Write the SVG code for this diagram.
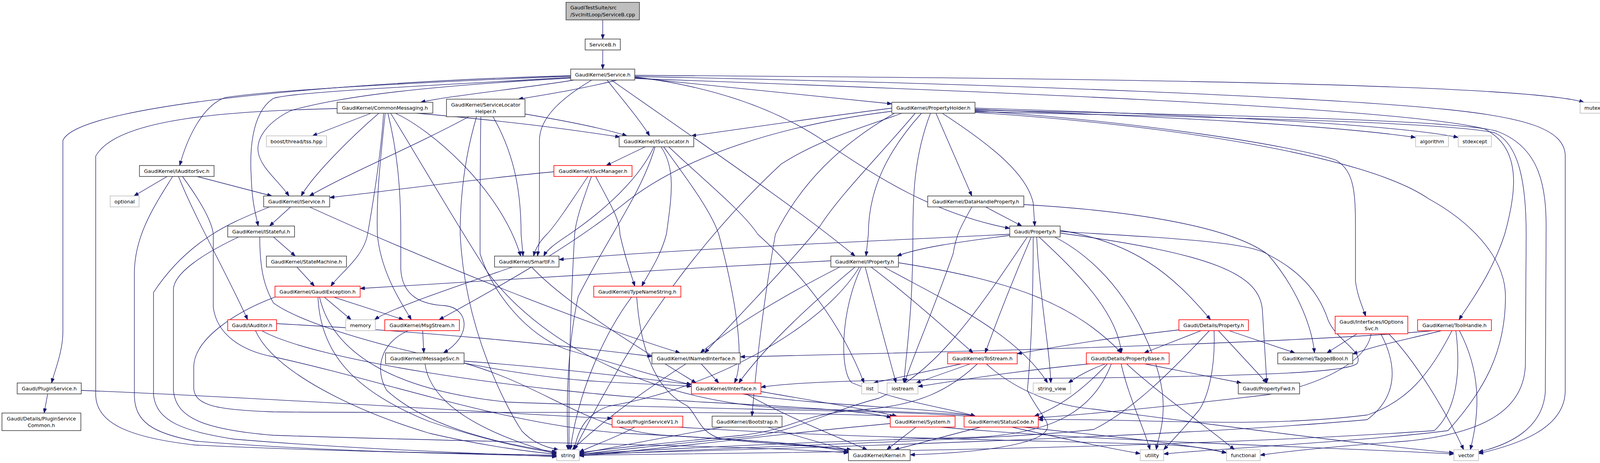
<svg xmlns="http://www.w3.org/2000/svg" width="4114" height="1186" viewBox="0 0 4114 1186">
<style>
.e{fill:none;stroke:#191970;stroke-width:1.3;marker-end:url(#ah)}
.n rect{fill:#fff;stroke:#404040;stroke-width:1.6}
.r rect{stroke:#ff0000}
.x rect{stroke:#bfbfbf}
.root rect{fill:#bfbfbf}
text{font-family:"DejaVu Sans","Liberation Sans",sans-serif;font-size:12.8px;text-anchor:middle;fill:#000}
</style>
<defs>
<marker id="ah" markerWidth="12" markerHeight="9" refX="12" refY="4.5" orient="auto" markerUnits="userSpaceOnUse"><path d="M0,0 L12,4.5 L0,9 z" fill="#191970" stroke="#191970" stroke-width="1"/></marker>
</defs>
<rect width="4114" height="1186" fill="#fff"/>
<g id="edges">
<path class="e" d="M1543,51 L1543,100"/>
<path class="e" d="M1543,128 L1543,177"/>
<path class="e" d="M1470,205 C1350,225 1150,245 1077,262"/>
<path class="e" d="M1580,205 C1480,230 1380,245 1327,254"/>
<path class="e" d="M1625,199 C1900,228 2150,252 2283,266"/>
<path class="e" d="M1625,193 C2800,200 3900,215 4055,262"/>
<path class="e" d="M1625,196 C2600,215 3400,250 3700,280 C3900,300 4007,330 4007,400 L4007,1000 C4007,1100 3880,1140 3785,1162"/>
<path class="e" d="M1625,201 C2700,240 3600,280 3800,330 C3900,380 3880,500 3852,600 C3820,700 3760,780 3735,819"/>
<path class="e" d="M1625,197 C1850,225 2000,290 2100,355 C2250,460 2400,550 2585,585"/>
<path class="e" d="M1565,205 C1800,370 2050,540 2189,656"/>
<path class="e" d="M1554,205 C1590,250 1640,310 1663,348"/>
<path class="e" d="M1515,205 C1440,250 1381,300 1381,360 L1381,600 C1381,625 1378,640 1376,656"/>
<path class="e" d="M1461,195 C1100,210 700,230 576,250 C520,270 480,350 460,424"/>
<path class="e" d="M1461,194 C1000,205 200,260 161,360 L161,850 C161,900 140,950 132,981"/>
<path class="e" d="M1461,198 C1100,220 750,235 700,252 C640,290 640,400 643,450 C645,520 655,550 661,579"/>
<path class="e" d="M1461,200 C1100,220 880,245 745,283 C690,310 655,350 661,390 C668,430 710,460 740,502"/>
<path class="e" d="M950,290 L800,348"/>
<path class="e" d="M970,290 C900,350 800,450 771,502"/>
<path class="e" d="M1066,290 C1300,310 1450,330 1587,351"/>
<path class="e" d="M1012,290 C1100,330 1280,480 1333,656"/>
<path class="e" d="M982,290 C975,400 955,520 941,600 C930,660 870,700 847,733"/>
<path class="e" d="M986,290 C975,400 963,500 966,600 C975,700 1030,780 1053,819"/>
<path class="e" d="M993,290 C1020,400 1026,500 1026,600 L1026,690 C1030,760 1080,780 1140,783 C1200,790 1210,860 1135,904"/>
<path class="e" d="M1000,290 C1080,420 1160,560 1250,700 C1400,900 1700,1030 2000,1045 C2300,1055 2450,1058 2497,1066"/>
<path class="e" d="M863,278 C600,285 300,300 245,400 L245,1010 C245,1080 320,1120 500,1140 C800,1155 1200,1162 1425,1166"/>
<path class="e" d="M1200,299 C1050,380 900,440 792,502"/>
<path class="e" d="M1344,292 C1450,310 1550,330 1605,348"/>
<path class="e" d="M1262,299 C1320,400 1334,500 1334,600 L1339,656"/>
<path class="e" d="M1220,299 C1190,400 1178,500 1178,600 C1190,850 1300,1050 1336,1104 C1360,1130 1390,1145 1430,1152"/>
<path class="e" d="M1231,299 C1229,400 1229,500 1229,650 C1260,750 1350,860 1450,895 C1600,940 1700,970 1770,985"/>
<path class="e" d="M2283,277 C2100,300 1900,330 1770,348"/>
<path class="e" d="M2283,285 C2000,320 1750,400 1600,520 C1450,640 1250,750 1124,819"/>
<path class="e" d="M2359,290 C2260,400 2223,500 2223,600 L2217,656"/>
<path class="e" d="M2382,290 C2340,400 2337,500 2337,600 C2337,800 2320,900 2314,981"/>
<path class="e" d="M2396,290 L2488,502"/>
<path class="e" d="M2412,290 C2550,380 2630,450 2645,520 L2649,579"/>
<path class="e" d="M2496,280 C3000,300 3400,320 3624,352"/>
<path class="e" d="M2496,277 C3000,292 3550,315 3733,352"/>
<path class="e" d="M2496,284 C2900,310 3300,370 3420,410 C3470,440 3470,500 3470,600 L3470,720 C3475,760 3490,790 3496,810"/>
<path class="e" d="M2496,288 C3000,320 3500,400 3657,509 C3750,560 3854,650 3854,760 C3854,900 3800,1000 3707,1103 C3500,1130 3100,1150 2979,1163"/>
<path class="e" d="M2496,286 C3100,300 3700,312 3826,340 C3892,370 3907,480 3907,600 L3905,936 C3900,1050 3800,1110 3600,1130 C3400,1145 3300,1155 3226,1166"/>
<path class="e" d="M2496,282 C3100,294 3720,306 3832,336 C3944,378 3960,480 3958,600 L3956,1003 C3950,1100 3860,1140 3785,1158"/>
<path class="e" d="M2309,290 C2200,330 2100,356 2000,420 C1700,700 1550,1000 1470,1152"/>
<path class="e" d="M2343,290 C2250,400 2150,500 2100,578 C2000,700 1880,820 1804,904"/>
<path class="e" d="M2290,290 C2150,370 2050,470 1985,600 C1950,800 1935,950 1925,1066"/>
<path class="e" d="M2523,530 L2616,579"/>
<path class="e" d="M2488,530 C2460,580 2448,600 2440,650 C2380,820 2330,930 2316,981"/>
<path class="e" d="M2621,524 C2900,540 3150,580 3246,652 C3340,700 3380,760 3400,820 C3420,870 3490,900 3475,930 C3460,950 3300,962 2800,968 C2300,972 2050,975 1948,992"/>
<path class="e" d="M2585,600 C2200,620 1700,640 1431,665"/>
<path class="e" d="M2585,603 C2450,620 2350,635 2296,656"/>
<path class="e" d="M2640,607 C2600,700 2560,800 2522,904"/>
<path class="e" d="M2654,607 C2660,750 2688,900 2690,981"/>
<path class="e" d="M2645,607 C2645,750 2640,900 2630,1000 C2660,1060 2690,1080 2680,1100 C2660,1140 2500,1160 2330,1165"/>
<path class="e" d="M2630,607 C2500,800 2400,950 2250,1020 C2100,1060 2030,1110 1900,1120 C1700,1140 1550,1155 1483,1165"/>
<path class="e" d="M2660,607 C2760,700 2860,800 2871,904"/>
<path class="e" d="M2714,590 C2900,620 3000,700 3099,819"/>
<path class="e" d="M2714,597 C3100,650 3230,700 3232,800 L3243,981"/>
<path class="e" d="M2714,593 C3000,610 3200,620 3246,652 C3330,750 3360,850 3365,904"/>
<path class="e" d="M2700,607 C2880,700 2960,900 2975,1000 C2985,1080 2965,1120 2960,1152"/>
<path class="e" d="M2127,668 C1700,690 1200,720 922,739"/>
<path class="e" d="M2150,684 C2000,760 1870,840 1793,904"/>
<path class="e" d="M2189,684 C2050,800 1950,900 1891,981"/>
<path class="e" d="M2200,684 C2100,850 1800,1000 1560,1040 C1500,1060 1480,1100 1470,1152"/>
<path class="e" d="M2215,684 C2250,820 2280,930 2294,981"/>
<path class="e" d="M2230,684 C2330,760 2430,850 2491,904"/>
<path class="e" d="M2263,684 C2400,760 2600,850 2682,981"/>
<path class="e" d="M2205,684 C2150,800 2150,950 2180,980 C2300,1030 2450,1050 2497,1066"/>
<path class="e" d="M2300,673 C2600,720 2750,780 2871,904"/>
<path class="e" d="M1652,376 L1552,424"/>
<path class="e" d="M1674,376 C1640,450 1560,530 1458,600 C1420,625 1400,640 1392,656"/>
<path class="e" d="M1677,376 C1640,500 1560,600 1480,760 C1450,900 1450,1050 1454,1152"/>
<path class="e" d="M1692,376 C1730,430 1720,500 1706,600 C1690,660 1660,700 1643,733"/>
<path class="e" d="M1699,376 C1760,460 1820,540 1840,600 C1880,750 1910,920 1880,981"/>
<path class="e" d="M1712,376 C1800,460 1900,540 1940,600 C2050,700 2150,820 2212,981"/>
<path class="e" d="M1418,440 C1200,460 950,495 844,506"/>
<path class="e" d="M1505,452 C1460,520 1420,580 1400,600 C1380,620 1370,640 1366,656"/>
<path class="e" d="M1514,452 C1490,520 1475,560 1471,600 C1460,800 1455,1000 1457,1152"/>
<path class="e" d="M1525,452 C1560,520 1587,560 1587,600 C1600,660 1615,700 1625,733"/>
<path class="e" d="M428,452 L343,502"/>
<path class="e" d="M504,452 L696,502"/>
<path class="e" d="M457,452 C500,560 580,700 634,819"/>
<path class="e" d="M442,452 C400,520 344,600 344,700 L344,1011 C344,1080 390,1110 500,1130 C800,1155 1200,1164 1425,1168"/>
<path class="e" d="M467,452 C500,497 542,560 546,600 L546,787 C555,858 620,899 700,914 C1000,980 1300,1090 1600,1110 C1900,1125 2100,1140 2172,1158"/>
<path class="e" d="M744,530 L690,579"/>
<path class="e" d="M792,530 C1100,670 1500,830 1741,904"/>
<path class="e" d="M690,530 C620,560 491,600 393,749 L393,1011 C400,1080 469,1104 600,1125 C900,1150 1200,1160 1425,1170"/>
<path class="e" d="M700,607 L756,656"/>
<path class="e" d="M611,607 C520,650 444,700 444,742 L444,1000 C450,1070 520,1100 700,1115 C1300,1135 1900,1140 2172,1160"/>
<path class="e" d="M665,607 C665,700 680,740 700,776 C800,850 1200,950 1500,975 C1650,985 1720,985 1770,990"/>
<path class="e" d="M760,684 L805,733"/>
<path class="e" d="M830,761 L899,819"/>
<path class="e" d="M854,761 L1033,819"/>
<path class="e" d="M814,761 C820,900 900,1000 1100,1080 C1250,1130 1350,1150 1425,1160"/>
<path class="e" d="M818,761 C850,900 1000,1000 1300,1030 C1800,1050 2300,1050 2497,1068"/>
<path class="e" d="M704,761 C600,800 496,870 496,940 L496,996 C500,1040 558,1050 700,1055 C1200,1060 1900,1050 2290,1066"/>
<path class="e" d="M1617,761 C1550,850 1480,1000 1460,1152"/>
<path class="e" d="M1630,761 C1640,900 1680,1000 1760,1040 C1790,1070 1790,1110 1850,1125 C2000,1140 2120,1145 2180,1152"/>
<path class="e" d="M708,829 C1100,850 1400,880 1669,913"/>
<path class="e" d="M654,847 C700,950 900,1050 1100,1110 C1250,1145 1380,1160 1425,1163"/>
<path class="e" d="M670,847 C800,920 1300,1000 1800,1030 C2100,1045 2230,1055 2282,1070"/>
<path class="e" d="M1312,684 C1150,740 1000,790 959,819"/>
<path class="e" d="M1361,684 C1450,780 1650,900 1782,981"/>
<path class="e" d="M1082,847 L1085,904"/>
<path class="e" d="M1045,847 C970,880 960,950 990,1000 C1100,1100 1300,1140 1425,1158"/>
<path class="e" d="M1088,932 C1100,1020 1200,1100 1425,1163"/>
<path class="e" d="M1188,925 C1400,940 1650,970 1770,985"/>
<path class="e" d="M1188,930 C1400,990 1500,1100 1700,1115 C1950,1130 2100,1140 2180,1155"/>
<path class="e" d="M1795,932 L1840,981"/>
<path class="e" d="M1756,932 C1650,1000 1540,1080 1465,1152"/>
<path class="e" d="M1910,1009 C2000,1060 2120,1110 2220,1152"/>
<path class="e" d="M1948,1003 C2100,1030 2230,1050 2296,1066"/>
<path class="e" d="M1900,1009 C2100,1040 2400,1045 2497,1066"/>
<path class="e" d="M122,1009 L113,1058"/>
<path class="e" d="M208,1000 C700,1020 1300,1060 1567,1072"/>
<path class="e" d="M1625,1094 C1580,1120 1520,1140 1483,1158"/>
<path class="e" d="M1737,1094 C2200,1125 2800,1130 3000,1140 C3080,1145 3120,1155 3140,1160"/>
<path class="e" d="M1850,1094 C1700,1120 1550,1150 1483,1162"/>
<path class="e" d="M1965,1094 C2050,1120 2120,1140 2180,1155"/>
<path class="e" d="M2345,1094 L2270,1152"/>
<path class="e" d="M2279,1085 C2000,1110 1700,1150 1483,1168"/>
<path class="e" d="M2408,1094 C2800,1130 3400,1145 3722,1163"/>
<path class="e" d="M2510,1094 L2290,1152"/>
<path class="e" d="M2590,1094 C2750,1130 2850,1150 2919,1162"/>
<path class="e" d="M2620,1094 C2800,1115 3000,1130 3140,1160"/>
<path class="e" d="M2461,932 L2236,981"/>
<path class="e" d="M2484,932 L2345,981"/>
<path class="e" d="M2502,932 C2430,1000 2350,1040 2200,1050 C2050,1060 2030,1100 1900,1115 C1700,1135 1550,1150 1483,1160"/>
<path class="e" d="M2525,932 C2600,1000 2700,1040 2800,1048 C3200,1100 3500,1140 3722,1160"/>
<path class="e" d="M2790,932 C2600,950 2450,975 2350,990"/>
<path class="e" d="M2830,932 C2780,950 2750,970 2735,981"/>
<path class="e" d="M2835,932 C2780,990 2720,1040 2648,1066"/>
<path class="e" d="M2845,932 C2800,1050 2700,1110 2500,1120 C2100,1130 1700,1150 1483,1163"/>
<path class="e" d="M2870,932 C2890,1020 2930,1100 2944,1152"/>
<path class="e" d="M2884,932 C2980,1020 3100,1100 3160,1152"/>
<path class="e" d="M2930,932 L3178,981"/>
<path class="e" d="M3018,845 C2800,870 2700,890 2604,906"/>
<path class="e" d="M3075,847 L2929,904"/>
<path class="e" d="M3096,847 C3000,950 2900,1050 2800,1100 C2600,1125 2000,1140 1483,1166"/>
<path class="e" d="M3108,847 C3112,950 3090,1020 3070,1050 C3020,1110 2990,1140 2979,1152"/>
<path class="e" d="M3119,847 L3243,981"/>
<path class="e" d="M3146,847 L3315,904"/>
<path class="e" d="M3474,855 L3397,904"/>
<path class="e" d="M3555,855 C3620,920 3700,1050 3747,1152"/>
<path class="e" d="M3510,855 C3500,920 3400,980 3246,1011 C3000,1040 2800,1060 2658,1070"/>
<path class="e" d="M3535,855 C3590,960 3560,1030 3500,1075 C3000,1120 2000,1150 1483,1163"/>
<path class="e" d="M3670,847 C3300,880 2500,900 1895,914"/>
<path class="e" d="M3690,847 C3600,870 3520,885 3463,907"/>
<path class="e" d="M3717,847 C3660,960 3600,1030 3500,1063 C3200,1100 2900,1070 2658,1075"/>
<path class="e" d="M3727,847 C3740,950 3730,1050 3672,1103 C3000,1150 2000,1160 1483,1166"/>
<path class="e" d="M3736,847 C3790,950 3790,1050 3764,1152"/>
</g>
<g id="n_root" class="n root"><rect x="1449" y="6" width="188" height="45"/><text x="1460" y="24" style="text-anchor:start">GaudiTestSuite/src</text><text x="1460" y="42" style="text-anchor:start">/SvcInitLoop/ServiceB.cpp</text></g>
<g id="n_serviceb" class="n"><rect x="1498" y="100" width="90" height="28"/><text x="1543" y="119">ServiceB.h</text></g>
<g id="n_service" class="n"><rect x="1461" y="177" width="164" height="28"/><text x="1543" y="196">GaudiKernel/Service.h</text></g>
<g id="n_commonmessaging" class="n"><rect x="863" y="262" width="245" height="28"/><text x="985.5" y="281">GaudiKernel/CommonMessaging.h</text></g>
<g id="n_servicelocatorhelper" class="n"><rect x="1143" y="254" width="201" height="45"/><text x="1243.5" y="272.5">GaudiKernel/ServiceLocator</text><text x="1243.5" y="289.5">Helper.h</text></g>
<g id="n_propertyholder" class="n"><rect x="2283" y="262" width="213" height="28"/><text x="2389.5" y="281">GaudiKernel/PropertyHolder.h</text></g>
<g id="n_mutex" class="n x"><rect x="4045" y="262" width="63" height="28"/><text x="4076.5" y="281">mutex</text></g>
<g id="n_boost" class="n x"><rect x="682" y="348" width="154" height="28"/><text x="759" y="367">boost/thread/tss.hpp</text></g>
<g id="n_isvclocator" class="n"><rect x="1585" y="348" width="191" height="28"/><text x="1680.5" y="367">GaudiKernel/ISvcLocator.h</text></g>
<g id="n_algorithm" class="n x"><rect x="3624" y="348" width="84" height="28"/><text x="3666" y="367">algorithm</text></g>
<g id="n_stdexcept" class="n x"><rect x="3733" y="348" width="85" height="28"/><text x="3775.5" y="367">stdexcept</text></g>
<g id="n_iauditorsvc" class="n"><rect x="357" y="424" width="191" height="28"/><text x="452.5" y="443">GaudiKernel/IAuditorSvc.h</text></g>
<g id="n_isvcmanager" class="n r"><rect x="1418" y="424" width="200" height="28"/><text x="1518" y="443">GaudiKernel/ISvcManager.h</text></g>
<g id="n_optional" class="n x"><rect x="282" y="502" width="74" height="28"/><text x="319" y="521">optional</text></g>
<g id="n_iservice" class="n"><rect x="675" y="502" width="169" height="28"/><text x="759.5" y="521">GaudiKernel/IService.h</text></g>
<g id="n_datahandleproperty" class="n"><rect x="2375" y="502" width="246" height="28"/><text x="2498" y="521">GaudiKernel/DataHandleProperty.h</text></g>
<g id="n_istateful" class="n"><rect x="583" y="579" width="171" height="28"/><text x="668.5" y="598">GaudiKernel/IStateful.h</text></g>
<g id="n_property" class="n"><rect x="2585" y="579" width="129" height="28"/><text x="2649.5" y="598">Gaudi/Property.h</text></g>
<g id="n_statemachine" class="n"><rect x="682" y="656" width="205" height="28"/><text x="784.5" y="675">GaudiKernel/StateMachine.h</text></g>
<g id="n_smartif" class="n"><rect x="1266" y="656" width="165" height="28"/><text x="1348.5" y="675">GaudiKernel/SmartIF.h</text></g>
<g id="n_iproperty" class="n"><rect x="2127" y="656" width="173" height="28"/><text x="2213.5" y="675">GaudiKernel/IProperty.h</text></g>
<g id="n_gaudiexception" class="n r"><rect x="704" y="733" width="218" height="28"/><text x="813" y="752">GaudiKernel/GaudiException.h</text></g>
<g id="n_typenamestring" class="n r"><rect x="1520" y="733" width="223" height="28"/><text x="1631.5" y="752">GaudiKernel/TypeNameString.h</text></g>
<g id="n_iauditor" class="n r"><rect x="583" y="819" width="125" height="28"/><text x="645.5" y="838">Gaudi/IAuditor.h</text></g>
<g id="n_memory" class="n x"><rect x="885" y="819" width="76" height="28"/><text x="923" y="838">memory</text></g>
<g id="n_msgstream" class="n r"><rect x="985" y="819" width="191" height="28"/><text x="1080.5" y="838">GaudiKernel/MsgStream.h</text></g>
<g id="n_detailsproperty" class="n r"><rect x="3018" y="819" width="178" height="28"/><text x="3107" y="838">Gaudi/Details/Property.h</text></g>
<g id="n_ioptionssvc" class="n r"><rect x="3418" y="810" width="186" height="45"/><text x="3511" y="828.5">Gaudi/Interfaces/IOptions</text><text x="3511" y="845.5">Svc.h</text></g>
<g id="n_toolhandle" class="n r"><rect x="3629" y="819" width="189" height="28"/><text x="3723.5" y="838">GaudiKernel/ToolHandle.h</text></g>
<g id="n_imessagesvc" class="n"><rect x="987" y="904" width="201" height="28"/><text x="1087.5" y="923">GaudiKernel/IMessageSvc.h</text></g>
<g id="n_inamedinterface" class="n"><rect x="1669" y="904" width="226" height="28"/><text x="1782" y="923">GaudiKernel/INamedInterface.h</text></g>
<g id="n_tostream" class="n r"><rect x="2426" y="904" width="178" height="28"/><text x="2515" y="923">GaudiKernel/ToStream.h</text></g>
<g id="n_propertybase" class="n r"><rect x="2781" y="904" width="212" height="28"/><text x="2887" y="923">Gaudi/Details/PropertyBase.h</text></g>
<g id="n_taggedbool" class="n"><rect x="3271" y="904" width="192" height="28"/><text x="3367" y="923">GaudiKernel/TaggedBool.h</text></g>
<g id="n_pluginservice" class="n"><rect x="44" y="981" width="164" height="28"/><text x="126" y="1000">Gaudi/PluginService.h</text></g>
<g id="n_list" class="n x"><rect x="2206" y="981" width="42" height="28"/><text x="2227" y="1000">list</text></g>
<g id="n_iostream" class="n x"><rect x="2271" y="981" width="79" height="28"/><text x="2310.5" y="1000">iostream</text></g>
<g id="n_iinterface" class="n r"><rect x="1770" y="981" width="178" height="28"/><text x="1859" y="1000">GaudiKernel/IInterface.h</text></g>
<g id="n_string_view" class="n x"><rect x="2645" y="981" width="96" height="28"/><text x="2693" y="1000">string_view</text></g>
<g id="n_propertyfwd" class="n"><rect x="3170" y="981" width="157" height="28"/><text x="3248.5" y="1000">Gaudi/PropertyFwd.h</text></g>
<g id="n_pluginservicecommon" class="n"><rect x="5" y="1058" width="202" height="45"/><text x="106" y="1076.5">Gaudi/Details/PluginService</text><text x="106" y="1093.5">Common.h</text></g>
<g id="n_pluginservicev1" class="n r"><rect x="1567" y="1066" width="181" height="28"/><text x="1657.5" y="1085">Gaudi/PluginServiceV1.h</text></g>
<g id="n_bootstrap" class="n"><rect x="1823" y="1066" width="179" height="28"/><text x="1912.5" y="1085">GaudiKernel/Bootstrap.h</text></g>
<g id="n_system" class="n r"><rect x="2279" y="1066" width="166" height="28"/><text x="2362" y="1085">GaudiKernel/System.h</text></g>
<g id="n_statuscode" class="n r"><rect x="2468" y="1066" width="190" height="28"/><text x="2563" y="1085">GaudiKernel/StatusCode.h</text></g>
<g id="n_string" class="n x"><rect x="1425" y="1152" width="58" height="28"/><text x="1454" y="1171">string</text></g>
<g id="n_kernel" class="n"><rect x="2172" y="1152" width="158" height="28"/><text x="2251" y="1171">GaudiKernel/Kernel.h</text></g>
<g id="n_utility" class="n x"><rect x="2919" y="1152" width="60" height="28"/><text x="2949" y="1171">utility</text></g>
<g id="n_functional" class="n x"><rect x="3140" y="1152" width="86" height="28"/><text x="3183" y="1171">functional</text></g>
<g id="n_vector" class="n x"><rect x="3722" y="1152" width="63" height="28"/><text x="3753.5" y="1171">vector</text></g>
</svg>
